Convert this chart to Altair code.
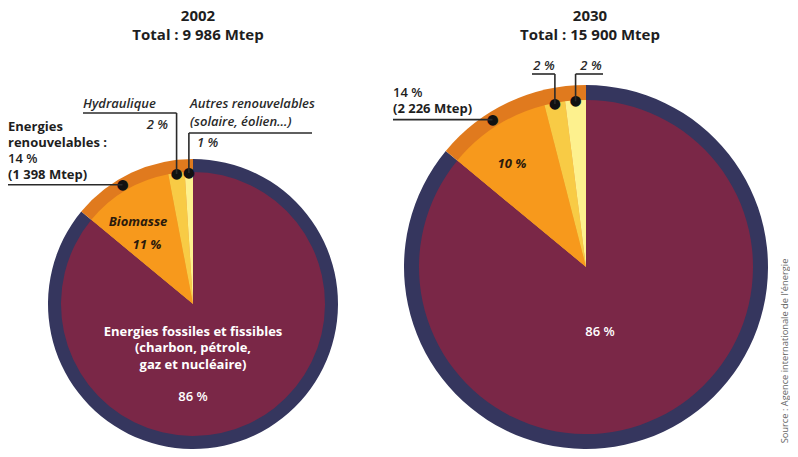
import math
import altair as alt
import pandas as pd

# ---------------- data ----------------
years = ["2002", "2030"]
categories = ["Energies fossiles et fissibles", "Biomasse", "Hydraulique", "Autres renouvelables"]
groups = ["Fossiles", "Renouvelables", "Renouvelables", "Renouvelables"]
share_2002 = [86, 11, 2, 1]
share_2030 = [86, 10, 2, 2]
total_2002 = "9 986"
total_2030 = "15 900"
renew_2002 = "1 398"
renew_2030 = "2 226"
shares = {"2002": share_2002, "2030": share_2030}

ring_keys = ["Fossiles", "Renouvelables"]
palette_cat = ["#7a2747", "#f7991c", "#f8cb45", "#fdf18e"]
palette_ring = ["#35365e", "#e07a1e"]

rows = []
for year in years:
    for i, (c, g, s) in enumerate(zip(categories, groups, shares[year])):
        rows.append({"year": year, "cat": c, "group": g, "share": s,
                     "order": i, "gorder": 0 if g == "Fossiles" else 1})
df = pd.DataFrame(rows)

# ---------------- layout ----------------
W, H = 782, 441
PIE = {"2002": dict(cx=185, cy=296, r=145, t=13),
       "2030": dict(cx=578, cy=259, r=182, t=15)}

color_scale = alt.Scale(domain=categories + ring_keys, range=palette_cat + palette_ring)
theta_scale = alt.Scale(domain=[0, 100])
FONT = "Open Sans"
DARK = "#1e1e1e"
GREY = "#2a2a2a"


def polar(year, idx, radius):
    s = shares[year]
    mid = sum(s[:idx]) + s[idx] / 2.0
    a = mid / 100.0 * 2 * math.pi
    p = PIE[year]
    return p["cx"] + radius * math.sin(a), p["cy"] - radius * math.cos(a)


def pie_layers(year):
    p = PIE[year]
    cx, cy, r, t = p["cx"], p["cy"], p["r"], p["t"]
    base = alt.Chart(df).transform_filter(alt.datum.year == year)
    ring = base.transform_aggregate(
        share="sum(share)", groupby=["group", "gorder"]
    ).mark_arc(outerRadius=r, innerRadius=0).encode(
        theta=alt.Theta("share:Q", stack=True, scale=theta_scale),
        color=alt.Color("group:N", scale=color_scale, legend=None),
        order=alt.Order("gorder:Q"),
        x=alt.value(cx), y=alt.value(cy),
    )
    pie = base.mark_arc(outerRadius=r - t, innerRadius=0).encode(
        theta=alt.Theta("share:Q", stack=True, scale=theta_scale),
        color=alt.Color("cat:N", scale=color_scale, legend=None),
        order=alt.Order("order:Q"),
        x=alt.value(cx), y=alt.value(cy),
    )
    dots_ring = base.transform_calculate(
        dot="datum.cat == 'Biomasse' ? '●' : ''"
    ).mark_text(radius=r - t / 2.0, fontSize=14, font="DejaVu Sans", color="#111",
                align="center", baseline="middle").encode(
        theta=alt.Theta("share:Q", stack=True, scale=theta_scale),
        order=alt.Order("order:Q"),
        text=alt.Text("dot:N"),
        x=alt.value(cx), y=alt.value(cy),
    )
    dots_in = base.transform_calculate(
        dot="(datum.cat == 'Hydraulique' || datum.cat == 'Autres renouvelables') ? '●' : ''"
    ).mark_text(radius=r - t - 1, fontSize=14, font="DejaVu Sans", color="#111",
                align="center", baseline="middle").encode(
        theta=alt.Theta("share:Q", stack=True, scale=theta_scale),
        order=alt.Order("order:Q"),
        text=alt.Text("dot:N"),
        x=alt.value(cx), y=alt.value(cy),
    )
    return [ring, pie, dots_ring, dots_in]


one = pd.DataFrame({"a": [0]})


def label(text, x, y, size=13, weight="bold", style="normal", color=DARK,
          align="left", angle=0, font=FONT):
    return alt.Chart(one).mark_text(
        text=text, fontSize=size, fontWeight=weight, fontStyle=style, color=color,
        align=align, baseline="middle", angle=angle, font=font,
    ).encode(x=alt.value(x), y=alt.value(y))


# ---------------- leader lines (from computed dot positions) ----------------
p02, p30 = PIE["2002"], PIE["2030"]
d02_ren = polar("2002", 1, p02["r"] - p02["t"] / 2.0)
d02_hyd = polar("2002", 2, p02["r"] - p02["t"] - 1)
d02_aut = polar("2002", 3, p02["r"] - p02["t"] - 1)
d30_ren = polar("2030", 1, p30["r"] - p30["t"] / 2.0)
d30_hyd = polar("2030", 2, p30["r"] - p30["t"] - 1)
d30_aut = polar("2030", 3, p30["r"] - p30["t"] - 1)

segs = pd.DataFrame([
    # 2002
    {"x": 0, "y": d02_ren[1], "x2": d02_ren[0], "y2": d02_ren[1]},
    {"x": 75, "y": 105, "x2": d02_hyd[0], "y2": 105},
    {"x": d02_hyd[0], "y": 105, "x2": d02_hyd[0], "y2": d02_hyd[1]},
    {"x": d02_aut[0], "y": 125, "x2": 304, "y2": 125},
    {"x": d02_aut[0], "y": 125, "x2": d02_aut[0], "y2": d02_aut[1]},
    # 2030
    {"x": 385, "y": d30_ren[1], "x2": d30_ren[0], "y2": d30_ren[1]},
    {"x": 524, "y": 66, "x2": d30_hyd[0], "y2": 66},
    {"x": d30_hyd[0], "y": 66, "x2": d30_hyd[0], "y2": d30_hyd[1]},
    {"x": d30_aut[0], "y": 66, "x2": 595, "y2": 66},
    {"x": d30_aut[0], "y": 66, "x2": d30_aut[0], "y2": d30_aut[1]},
])
rules = alt.Chart(segs).mark_rule(color="#2a2a2a", strokeWidth=1.6).encode(
    x=alt.X("x:Q", scale=None, axis=None),
    y=alt.Y("y:Q", scale=None, axis=None),
    x2="x2:Q", y2="y2:Q",
)

ly = d02_ren[1] - 10   # last line of the 2002 renewable label
ry = d30_ren[1] - 11   # last line of the 2030 renewable label

texts = [
    # titles
    label("2002", 190, 8, size=15, align="center"),
    label(f"Total : {total_2002} Mtep", 190, 27, size=15, align="center"),
    label("2030", 582, 8, size=15, align="center"),
    label(f"Total : {total_2030} Mtep", 582, 27, size=15, align="center"),
    # 2002 annotations
    label("Energies", 0, ly - 48),
    label("renouvelables :", 0, ly - 32),
    label("14 %", 0, ly - 16, weight=600),
    label(f"({renew_2002} Mtep)", 0, ly),
    label("Hydraulique", 75, 96, weight=600, style="italic", color=GREY),
    label(f"{share_2002[2]} %", 160, 117, weight=600, style="italic", color=GREY, align="right"),
    label("Autres renouvelables", 182, 96, weight=600, style="italic", color=GREY),
    label("(solaire, éolien…)", 182, 114, weight=600, style="italic", color=GREY),
    label(f"{share_2002[3]} %", 189, 135, weight=600, style="italic", color=GREY),
    label("Biomasse", 130, 214, weight="bold", style="italic", color="#2b1a0c", align="center"),
    label(f"{share_2002[1]} %", 139, 237, weight="bold", style="italic", color="#2b1a0c", align="center"),
    label("Energies fossiles et fissibles", 185, 323.5, size=13, color="white", align="center"),
    label("(charbon, pétrole,", 185, 340, size=13, color="white", align="center"),
    label("gaz et nucléaire)", 185, 356.5, size=13, color="white", align="center"),
    label(f"{share_2002[0]} %", 185, 389, weight=600, color="white", align="center"),
    # 2030 annotations
    label("14 %", 385, ry - 16, weight=600),
    label(f"({renew_2030} Mtep)", 385, ry),
    label(f"{share_2030[2]} %", 536, 58, weight=600, style="italic", color=GREY, align="center"),
    label(f"{share_2030[3]} %", 583, 58, weight=600, style="italic", color=GREY, align="center"),
    label(f"{share_2030[1]} %", 504, 156, weight="bold", style="italic", color="#2b1a0c", align="center"),
    label(f"{share_2030[0]} %", 592, 324, weight=600, color="white", align="center"),
    # source
    label("Source : Agence internationale de l'énergie", 777, 343, size=9.3, weight="normal",
          color="#666", align="center", angle=270),
]

layers = pie_layers("2002") + pie_layers("2030") + [rules] + texts

chart = alt.layer(*layers).properties(
    width=W, height=H,
    autosize=alt.AutoSizeParams(type="none"),
    padding=0,
).configure_view(stroke=None)

chart.save("out.html", embed_options={"renderer": "svg", "actions": False})
